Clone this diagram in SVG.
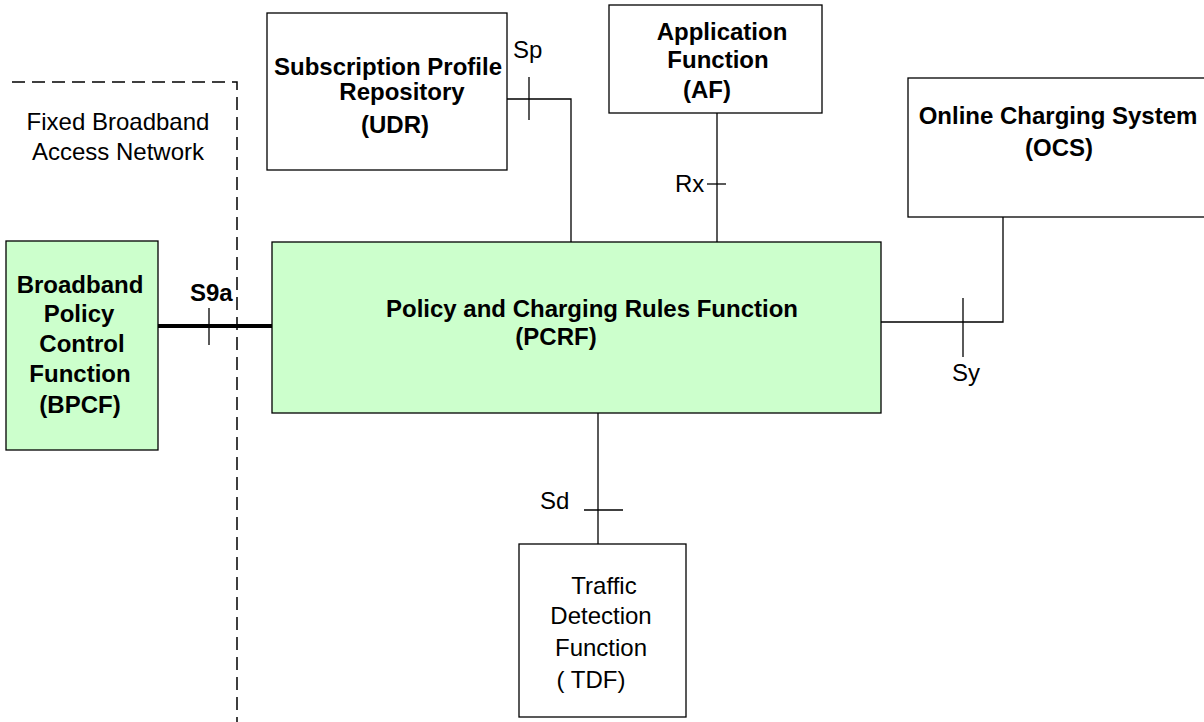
<svg xmlns="http://www.w3.org/2000/svg" width="1204" height="722" viewBox="0 0 1204 722">
<style>
text{font-family:"Liberation Sans",Arial,sans-serif;font-size:24px;fill:#000}
.b{font-weight:bold}
.m{text-anchor:middle}
.box{fill:#fff;stroke:#000;stroke-width:1.3}
.g{fill:#ccffcc;stroke:#000;stroke-width:1.3}
.ln{fill:none;stroke:#000;stroke-width:1.3}
</style>
<rect width="1204" height="722" fill="#fff"/>
<g id="boundary">
<path d="M12 82 H237 V722" fill="none" stroke="#000" stroke-width="1.5" stroke-dasharray="13,7"/>
<text class="m" x="118" y="130">Fixed Broadband</text>
<text class="m" x="118" y="160">Access Network</text>
</g>
<g id="connectors">
<path class="ln" d="M507 99 H571 V242"/>
<path class="ln" d="M529 77 V120"/>
<path class="ln" d="M717 113 V242"/>
<path class="ln" d="M707 184 H726"/>
<path class="ln" d="M881 322 H1003 V217"/>
<path class="ln" d="M963 298 V357"/>
<path class="ln" d="M598 413 V544"/>
<path class="ln" d="M584 510 H623"/>
<path d="M158 326 H273" fill="none" stroke="#000" stroke-width="4"/>
<path class="ln" d="M209 308 V345"/>
<text x="513" y="58">Sp</text>
<text x="675" y="192">Rx</text>
<text x="952" y="381">Sy</text>
<text x="540" y="509">Sd</text>
<text class="b" x="190" y="301">S9a</text>
</g>
<g id="udr">
<rect class="box" x="267" y="13" width="240" height="157"/>
<text class="b m" x="388" y="75">Subscription Profile</text>
<text class="b m" x="402" y="100">Repository</text>
<text class="b m" x="395" y="133">(UDR)</text>
</g>
<g id="af">
<rect class="box" x="609" y="5" width="213" height="108"/>
<text class="b m" x="722" y="40">Application</text>
<text class="b m" x="718" y="68">Function</text>
<text class="b m" x="707" y="98">(AF)</text>
</g>
<g id="ocs">
<rect class="box" x="908" y="78" width="310" height="139"/>
<text class="b m" x="1058" y="124">Online Charging System</text>
<text class="b m" x="1059" y="156">(OCS)</text>
</g>
<g id="pcrf">
<rect class="g" x="272" y="242" width="609" height="171"/>
<text class="b m" x="592" y="317">Policy and Charging Rules Function</text>
<text class="b m" x="556" y="345">(PCRF)</text>
</g>
<g id="bpcf">
<rect class="g" x="6" y="241" width="152" height="209"/>
<text class="b m" x="80" y="293">Broadband</text>
<text class="b m" x="79" y="322">Policy</text>
<text class="b m" x="82" y="352">Control</text>
<text class="b m" x="80" y="382">Function</text>
<text class="b m" x="80" y="413">(BPCF)</text>
</g>
<g id="tdf">
<rect class="box" x="519" y="544" width="167" height="173"/>
<text class="m" x="604" y="594">Traffic</text>
<text class="m" x="601" y="624">Detection</text>
<text class="m" x="601" y="656">Function</text>
<text class="m" x="591" y="688">( TDF)</text>
</g>
</svg>
